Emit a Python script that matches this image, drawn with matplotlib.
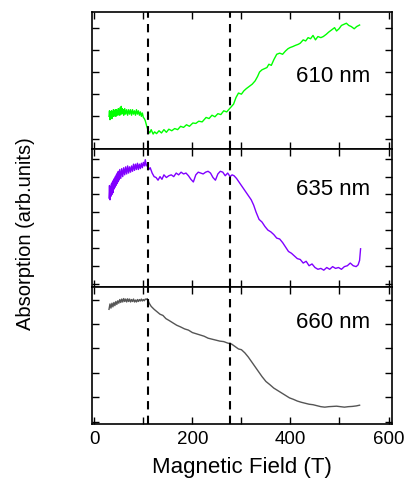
import numpy as np
import matplotlib.pyplot as plt
from matplotlib.ticker import MultipleLocator

plt.rcParams['font.family'] = ['Liberation Sans', 'DejaVu Sans']

# 610 nm (green)
x610 = [30, 31, 32, 33, 34, 35, 36, 37, 38, 39, 40, 41, 42, 43, 44, 45, 46, 47, 48, 49, 50, 51, 52, 53, 54, 55, 56,
        57, 58, 59, 60, 62, 64, 66, 68, 70, 72, 74, 76, 78, 80, 82, 84, 86, 88, 90, 92, 94, 96, 98, 100, 102, 104,
        107, 110, 113, 116, 120, 123, 127, 132, 137, 142, 147, 152, 158, 164, 170, 176, 182, 188, 194, 201, 207, 213,
        220, 228, 234, 240, 246, 252, 258, 264, 270, 276, 280, 284, 289, 294, 300, 305, 310, 316, 322, 328, 333, 337,
        342, 347, 352, 356, 361, 366, 372, 378, 384, 390, 395, 399, 405, 410, 416, 420, 426, 431, 436, 441, 446, 451,
        456, 462, 467, 473, 478, 484, 490, 494, 499, 504, 509, 514, 519, 524, 530, 535, 541]
y610 = [1.0, 1.25, 0.85, 1.2, 0.95, 1.25, 0.9, 1.2, 1.0, 1.3, 1.0, 1.25, 1.05, 1.3, 1.0, 1.3, 1.1, 1.25, 1.05, 1.35,
        1.1, 1.3, 1.05, 1.4, 1.15, 1.45, 1.1, 1.35, 1.15, 1.3, 1.05, 1.35, 1.1, 1.3, 1.05, 1.3, 1.1, 1.3, 1.05, 1.3,
        1.1, 1.25, 1.05, 1.3, 1.1, 1.25, 1.05, 1.2, 1.0, 1.15, 0.95, 0.9, 0.8,
        0.55, 0.35, 0.25, 0.4, 0.2, 0.3, 0.22, 0.35, 0.25, 0.4, 0.28, 0.42, 0.35, 0.45, 0.4, 0.55, 0.5, 0.62, 0.55, 0.7,
        0.68, 0.78, 0.75, 0.95, 0.9, 1.05, 0.98, 1.12, 1.08, 1.25, 1.2, 1.35, 1.45, 1.55, 1.85, 2.05, 2.0, 2.15, 2.25,
        2.35, 2.45, 2.6, 2.8, 3.0, 3.1, 3.15, 3.2, 3.35, 3.3, 3.55, 3.8, 3.85, 3.8, 3.95, 4.05, 4.1, 4.15, 4.2, 4.25,
        4.3, 4.45, 4.4, 4.55, 4.5, 4.65, 4.45, 4.6, 4.55, 4.6, 4.7, 4.8, 4.9, 5.0, 4.85, 4.95, 5.1, 5.15, 5.2, 5.1,
        5.05, 4.95, 5.05, 5.12]

# 635 nm (purple)
x635 = [30, 31, 32, 33, 34, 35, 36, 37, 38, 39, 40, 41, 42, 43, 44, 45, 46, 47, 48, 49, 50, 52, 54, 56, 58, 60, 62,
        64, 66, 68, 70, 72, 74, 76, 78, 80, 82, 84, 86, 88, 90, 92, 94, 96, 98, 100, 102, 104,
        106, 108, 111, 114, 118, 122, 126, 130, 134, 138, 142, 147, 152, 157, 162, 167, 172, 177, 182, 187, 192, 197,
        202, 207, 212, 217, 222, 227, 232, 237, 242, 247, 252, 257, 262, 267, 272, 277, 281, 285, 290, 295, 300, 305,
        310, 315, 320, 325, 330, 336, 342, 348, 354, 360, 366, 372, 378, 384, 390, 396, 402, 408, 414, 420, 426, 432,
        438, 444, 450, 456, 462, 468, 474, 480, 486, 492, 498, 504, 510, 516, 522, 528, 534, 538, 541, 543]
y635 = [4.8, 5.5, 4.7, 5.4, 4.9, 5.6, 5.0, 5.7, 5.1, 5.8, 5.3, 5.9, 5.4, 6.0, 5.5, 6.1, 5.6, 6.2, 5.7, 6.3, 5.8, 6.4,
        5.9, 6.45, 6.0, 6.5, 6.1, 6.55, 6.15, 6.6, 6.2, 6.55, 6.25, 6.6, 6.3, 6.7, 6.35, 6.7, 6.4, 6.75, 6.4, 6.7,
        6.45, 6.75, 6.5, 6.8, 6.6, 6.95,
        6.6, 6.7, 6.4, 6.5, 6.2, 6.0, 5.95, 5.8, 6.0, 5.85, 6.1, 5.95, 6.05, 6.1, 6.0, 6.2, 6.1, 6.25, 6.15, 6.2, 6.05,
        5.85, 5.7, 6.1, 6.25, 6.2, 6.15, 6.25, 6.3, 6.2, 5.95, 5.8, 6.15, 6.3, 6.25, 6.05, 6.2, 6.0, 6.1, 6.05, 5.9,
        5.7, 5.5, 5.3, 5.1, 4.9, 4.7, 4.4, 4.0, 3.6, 3.45, 3.2, 3.0, 2.9, 2.75, 2.55, 2.5, 2.3, 2.05, 1.8, 1.7, 1.55,
        1.4, 1.35, 1.15, 1.25, 1.0, 1.1, 0.9, 0.8, 0.85, 0.75, 0.9, 0.8, 0.95, 0.85, 0.9, 0.8, 0.95, 1.0, 1.15, 1.0,
        0.95, 1.05, 1.3, 1.95]

# 660 nm (grey)
x660 = [30, 32, 34, 36, 38, 40, 42, 44, 46, 48, 50, 52, 54, 56, 58, 60, 62, 64, 66, 68, 70, 72, 74, 76, 78, 80, 82,
        84, 86, 88, 90, 92, 94, 96, 98, 100, 102, 104, 106, 108, 112, 116, 122, 128,
        134, 140, 146, 152, 160, 168, 176, 184, 192, 200, 208, 216, 224, 232, 240, 248, 256, 264, 272, 280, 287, 294,
        300, 307, 314, 321, 328, 335, 342, 350, 358, 366, 374, 382, 390, 398, 406, 414, 422, 430, 438, 446, 454, 462,
        470, 478, 486, 494, 502, 510, 518, 526, 534, 541]
y660 = [4.6, 4.82, 4.65, 4.85, 4.7, 4.88, 4.75, 4.92, 4.8, 4.95, 4.85, 5.0, 4.88, 5.02, 4.9, 5.04, 4.92, 5.02, 4.9,
        5.03, 4.92, 5.02, 4.9, 5.0, 4.92, 5.02, 4.9, 4.98, 4.9, 5.0, 4.92, 5.0, 4.94, 5.02, 4.94, 5.0, 4.95, 5.02,
        5.0, 5.04, 4.85, 4.72, 4.6, 4.5, 4.4, 4.35, 4.22, 4.15, 4.05, 3.95, 3.88, 3.8, 3.75, 3.65, 3.6, 3.55, 3.5,
        3.42, 3.38, 3.34, 3.3, 3.28, 3.22, 3.18, 3.08, 2.98, 2.95, 2.82, 2.65, 2.45, 2.25, 2.05, 1.85, 1.65, 1.52,
        1.38, 1.28, 1.18, 1.08, 0.98, 0.92, 0.85, 0.8, 0.76, 0.72, 0.7, 0.66, 0.62, 0.6, 0.62, 0.63, 0.64, 0.62, 0.6,
        0.62, 0.63, 0.65, 0.68]

labels = ['610 nm', '635 nm', '660 nm']
colors = ['#00ff00', '#8000ff', '#555555']
xs = [x610, x635, x660]
ys = [y610, y635, y660]
ylims = [(-0.49, 5.7), (-0.17, 7.53), (-0.08, 5.53)]
label_pos = [0.53, 0.71, 0.74]
dash_x = [110, 277]

fig = plt.figure(figsize=(4.1, 4.86), dpi=100)
gs = fig.add_gridspec(3, 1, left=0.224, right=0.956, top=0.975, bottom=0.128, hspace=0)

for i in range(3):
    ax = fig.add_subplot(gs[i])
    ax.plot(xs[i], ys[i], color=colors[i], linewidth=1.0)
    for d in dash_x:
        ax.axvline(d, color='black', linestyle=(0, (4, 3)), linewidth=1.5)
    ax.set_xlim(-5, 607)
    ax.set_ylim(*ylims[i])
    ax.xaxis.set_major_locator(MultipleLocator(200))
    ax.xaxis.set_minor_locator(MultipleLocator(100))
    ax.yaxis.set_major_locator(MultipleLocator(1))
    ax.tick_params(which='both', direction='in', top=True, right=True, length=5, width=1.0,
                   labelsize=13.5, pad=5)
    ax.tick_params(axis='y', labelleft=False)
    for s in ax.spines.values():
        s.set_linewidth(1.2)
    ax.text(0.803, label_pos[i], labels[i], transform=ax.transAxes, ha='center', va='center', fontsize=16)
    if i < 2:
        ax.tick_params(axis='x', labelbottom=False)
    else:
        ax.set_xlabel('Magnetic Field (T)', fontsize=16, labelpad=7)

fig.text(0.063, 0.519, 'Absorption (arb.units)', rotation=90, ha='center', va='center', fontsize=14.5)

plt.savefig('out.png')
